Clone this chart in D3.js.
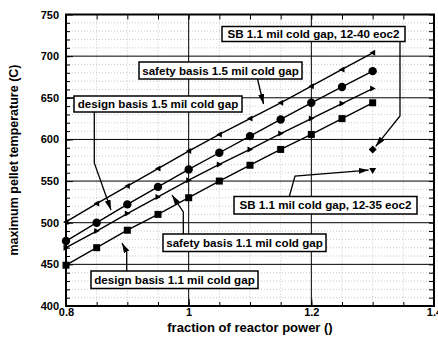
<!DOCTYPE html>
<html><head><meta charset="utf-8">
<script src="https://cdn.jsdelivr.net/npm/d3@7"></script>
<style>body{margin:0;background:#fff}svg{display:block}text{font-family:"Liberation Sans",Arial,sans-serif;font-weight:bold}</style>
</head><body><svg id="c" width="438" height="337"></svg>
<script>
const fractions = [0.8,0.85,0.9,0.95,1.0,1.05,1.1,1.15,1.2,1.25,1.3];
const safety15 = [501,523,544,565,586,606,625,644,664,684,704];
const design15 = [478,500,522,543,564,584,604,624,644,663,682];
const safety11 = [470,490,511,531,551,570,588,607,625,643,661];
const design11 = [449,470,491,510,530,550,569,588,606,625,644];
const eoc1240 = {x:1.3, y:588};
const eoc1235 = {x:1.3, y:562};
const xTicks = [0.8,1.0,1.2,1.4];
const xTickLabels = ["0.8","1","1.2","1.4"];
const yTicks = [400,450,500,550,600,650,700,750];
const labels = ["SB 1.1 mil cold gap, 12-40 eoc2","safety basis 1.5 mil cold gap","design basis 1.5 mil cold gap","safety basis 1.1 mil cold gap","design basis 1.1 mil cold gap","SB 1.1 mil cold gap, 12-35 eoc2"];

const svg = d3.select("#c");
const L=66,R=434,T=14.5,B=306;
const x = d3.scaleLinear().domain([0.8,1.4]).range([L,R]);
const y = d3.scaleLinear().domain([400,750]).range([B,T]);

// dotted minor grid
const g = svg.append("g");
d3.range(0.85,1.4,0.05).forEach(v=>{ if(Math.abs(v/0.2-Math.round(v/0.2))>1e-6)
  g.append("line").attr("x1",x(v)).attr("x2",x(v)).attr("y1",T).attr("y2",B).attr("stroke","#bbb").attr("stroke-width",0.8).attr("stroke-dasharray","1,2");});
d3.range(410,750,10).forEach(v=>{ if(v%50!==0)
  g.append("line").attr("y1",y(v)).attr("y2",y(v)).attr("x1",L).attr("x2",R).attr("stroke","#bbb").attr("stroke-width",0.8).attr("stroke-dasharray","1,2");});
// major grid
[1.0,1.2].forEach(v=>g.append("line").attr("x1",x(v)).attr("x2",x(v)).attr("y1",T).attr("y2",B).attr("stroke","#000").attr("stroke-width",1));
[450,500,550,600,650,700].forEach(v=>g.append("line").attr("y1",y(v)).attr("y2",y(v)).attr("x1",L).attr("x2",R).attr("stroke","#000").attr("stroke-width",1));

// axes with inner ticks
const ax = (gen)=>gen.tickSizeOuter(0).tickPadding(3);
svg.append("g").attr("transform",`translate(0,${B})`)
  .call(ax(d3.axisBottom(x).tickValues(xTicks).tickSize(-7).tickFormat((d,i)=>xTickLabels[i])))
  .call(s=>{s.select(".domain").remove();s.selectAll("text").attr("font-size",11).attr("font-weight","bold").attr("fill","#000").attr("y",1).attr("dy","0.85em");});
svg.append("g").attr("transform",`translate(0,${B})`)
  .call(d3.axisBottom(x).tickValues(d3.range(0.85,1.4,0.05)).tickSize(-4).tickFormat(""))
  .call(s=>s.select(".domain").remove());
svg.append("g").attr("transform",`translate(0,${T})`)
  .call(d3.axisTop(x).tickValues(d3.range(0.8,1.41,0.05)).tickSize(-5).tickFormat(""))
  .call(s=>s.select(".domain").remove());
svg.append("g").attr("transform",`translate(${L},0)`)
  .call(ax(d3.axisLeft(y).tickValues(yTicks).tickSize(-7)))
  .call(s=>{s.select(".domain").remove();s.selectAll("text").attr("font-size",11).attr("font-weight","bold").attr("fill","#000").attr("x",-7);});
svg.append("g").attr("transform",`translate(${L},0)`)
  .call(d3.axisLeft(y).tickValues(d3.range(410,750,10)).tickSize(-4).tickFormat(""))
  .call(s=>s.select(".domain").remove());
svg.append("g").attr("transform",`translate(${R},0)`)
  .call(d3.axisRight(y).tickValues(d3.range(400,751,10)).tickSize(-5).tickFormat(""))
  .call(s=>s.select(".domain").remove());
svg.append("rect").attr("x",L).attr("y",T).attr("width",R-L).attr("height",B-T).attr("fill","none").attr("stroke","#000").attr("stroke-width",2);

// axis titles
svg.append("text").attr("x",250).attr("y",332).attr("text-anchor","middle").attr("font-size",13).text("fraction of reactor power ()");
svg.append("text").attr("transform","translate(18,160) rotate(-90)").attr("text-anchor","middle").attr("font-size",12.5).text("maximum pellet temperature (C)");

// series
const line = d3.line().x(d=>x(d[0])).y(d=>y(d[1]));
const series = [
  {vals:safety15, sym:"tl"},
  {vals:design15, sym:"circle"},
  {vals:safety11, sym:"tr"},
  {vals:design11, sym:"square"}
];
const lg = svg.append("g");
const mk = svg.append("g");
function drawMarker(sym,cx,cy){
  if(sym==="circle") mk.append("circle").attr("cx",cx).attr("cy",cy).attr("r",4.2).attr("fill","#000");
  else if(sym==="square") mk.append("rect").attr("x",cx-3.5).attr("y",cy-3.5).attr("width",7).attr("height",7).attr("fill","#000");
  else if(sym==="tl") mk.append("path").attr("d",`M${cx-3},${cy}L${cx+2.5},${cy-3}L${cx+2.5},${cy+3}Z`).attr("fill","#000");
  else if(sym==="tr") mk.append("path").attr("d",`M${cx+3},${cy}L${cx-2.5},${cy-3}L${cx-2.5},${cy+3}Z`).attr("fill","#000");
  else if(sym==="diamond") mk.append("path").attr("d",`M${cx},${cy-4}L${cx+4},${cy}L${cx},${cy+4}L${cx-4},${cy}Z`).attr("fill","#000");
  else if(sym==="tdown") mk.append("path").attr("d",`M${cx-3.5},${cy-3}L${cx+3.5},${cy-3}L${cx},${cy+3}Z`).attr("fill","#000");
}
series.forEach(s=>{
  const pts = fractions.map((f,i)=>[f,s.vals[i]]);
  lg.append("path").attr("d",line(pts)).attr("fill","none").attr("stroke","#000").attr("stroke-width",1.4);
  pts.forEach(p=>drawMarker(s.sym,x(p[0]),y(p[1])));
});
drawMarker("diamond",x(eoc1240.x),y(eoc1240.y));
drawMarker("tdown",x(eoc1235.x),y(eoc1235.y));

// annotations
svg.append("defs").append("marker").attr("id","ah").attr("viewBox","0 0 10 6").attr("refX",10).attr("refY",3)
  .attr("markerWidth",10).attr("markerHeight",6).attr("markerUnits","userSpaceOnUse").attr("orient","auto")
  .append("path").attr("d","M0,0L10,3L0,6Z").attr("fill","#000");
const ann = [
  {t:labels[0], box:[222,26.5,405,41.5], path:[[400,41.5],[400,116],[x(1.3)+3,y(eoc1240.y)-3]]},
  {t:labels[1], box:[139,62,302,79], path:[[257.5,79],[263.5,104]]},
  {t:labels[2], box:[74,96,242,112], path:[[94.3,112],[94.3,163],[111,210]]},
  {t:labels[3], box:[163,234,326,251.5], path:[[183.3,234],[183.3,212],[172,195]]},
  {t:labels[4], box:[91,271,258,288.5], path:[[126.7,271],[126.7,252],[122,243]]},
  {t:labels[5], box:[234,196.5,417,214], path:[[289.3,196.5],[295,176],[x(1.3)-4,y(eoc1235.y)-1]]}
];
ann.forEach(a=>{
  svg.append("path").attr("d",d3.line()(a.path)).attr("fill","none").attr("stroke","#000").attr("stroke-width",1.3).attr("marker-end","url(#ah)");
  const [x0,y0,x1,y1]=a.box;
  svg.append("rect").attr("x",x0).attr("y",y0).attr("width",x1-x0).attr("height",y1-y0).attr("fill","#fff").attr("stroke","#000").attr("stroke-width",1.5);
  svg.append("text").attr("x",(x0+x1)/2).attr("y",(y0+y1)/2).attr("dy","0.36em").attr("text-anchor","middle").attr("font-size",11.6).text(a.t);
});
</script></body></html>
